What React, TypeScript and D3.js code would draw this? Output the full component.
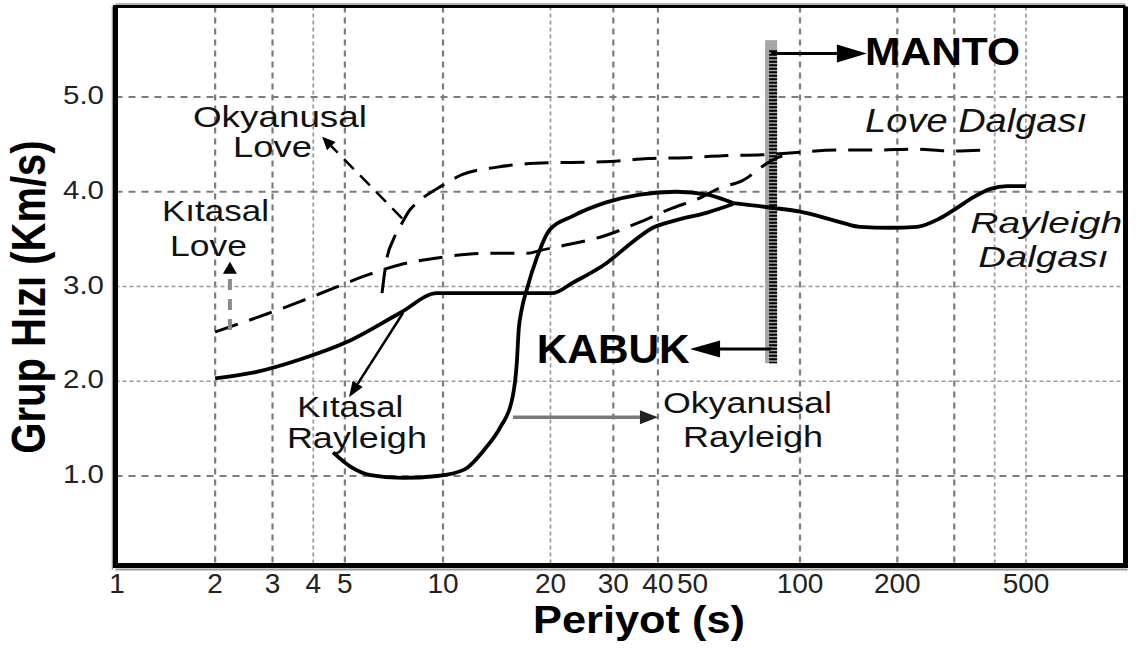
import React from "react";
import * as d3 from "d3";

type Pt = [number, number];

// ---- axis values ----
const xTickLabels = [1, 2, 3, 4, 5, 10, 20, 30, 40, 50, 100, 200, 500];
const xGridValues = [2, 3, 4, 5, 10, 20, 30, 40, 100, 200, 300, 400, 500];
const xGridFine = [4, 20, 400, 500];
const yTickValues = [1, 2, 3, 4, 5];
const yGridFine = [2, 3];

// ---- curves: [period (s), group velocity (km/s)] ----
const kitasalRayleigh: Pt[] = [
  [2.0, 2.03], [2.61, 2.09], [3.64, 2.23], [5.19, 2.43], [7.38, 2.72], [9.6, 2.93],
  [15, 2.93], [20.3, 2.93], [23.1, 3.04], [28.8, 3.25], [32.7, 3.42], [38.7, 3.62],
  [45, 3.7], [55, 3.78], [65, 3.87],
];
const okyanusalRayleigh: Pt[] = [
  [4.6, 1.25], [5.2, 1.1], [6.0, 1.01], [7.5, 0.98], [9.6, 1.0], [11.5, 1.07],
  [13.0, 1.27], [14.5, 1.52], [15.6, 1.8], [16.1, 2.2], [16.3, 2.55], [16.6, 2.75],
  [17.2, 2.98], [18.3, 3.3], [19.9, 3.6], [23, 3.74], [28.8, 3.89], [35.6, 3.97],
  [45, 4.0], [55, 3.97], [65, 3.88],
];
const rayleighDalgasi: Pt[] = [
  [65, 3.88], [84, 3.83], [100, 3.79], [133, 3.68], [153, 3.63], [190, 3.62],
  [230, 3.63], [271, 3.72], [306, 3.83], [343, 3.94], [388, 4.03], [437, 4.06], [500, 4.06],
];
const kitasalLove: Pt[] = [
  [2.0, 2.52], [2.88, 2.71], [3.64, 2.84], [4.6, 2.98], [5.85, 3.12], [7.38, 3.23],
  [10, 3.31], [12.9, 3.35], [17.3, 3.35], [18.7, 3.38], [22.2, 3.44], [28.1, 3.53],
  [35.6, 3.68], [44.1, 3.83], [51.4, 3.92], [59.7, 4.04], [69.2, 4.12], [80.8, 4.3],
  [88, 4.37], [95, 4.4],
];
const okyanusalLove: Pt[] = [
  [6.5, 2.93], [6.73, 3.3], [7.03, 3.49], [7.38, 3.63], [7.92, 3.81], [8.5, 3.91],
  [10, 4.07], [11.3, 4.18], [14.2, 4.26], [18.1, 4.3], [23, 4.31], [29.4, 4.32],
  [37.5, 4.35], [48.2, 4.36], [60.8, 4.38], [78.3, 4.39], [93.8, 4.41], [130, 4.44],
  [171, 4.44], [227, 4.45], [291, 4.43], [366, 4.44],
];

// ---- annotations (data coordinates) ----
const barPeriod = 83;
const barRange: Pt = [2.19, 5.6];
const regularLabels = [
  { text: "Okyanusal", at: [1.71, 4.68] as Pt, w: 174 },
  { text: "Love", at: [2.27, 4.37] as Pt, w: 79 },
  { text: "Kıtasal", at: [1.374, 3.69] as Pt, w: 107 },
  { text: "Love", at: [1.454, 3.32] as Pt, w: 77 },
  { text: "Kıtasal", at: [3.57, 1.62] as Pt, w: 106 },
  { text: "Rayleigh", at: [3.32, 1.3] as Pt, w: 140 },
  { text: "Okyanusal", at: [41.3, 1.665] as Pt, w: 169 },
  { text: "Rayleigh", at: [47.0, 1.306] as Pt, w: 140 },
];
const italicLabels = [
  { text: "Love Dalgası", at: [159, 4.63] as Pt, w: 222, fs: 33 },
  { text: "Rayleigh", at: [336, 3.56] as Pt, w: 152, fs: 29 },
  { text: "Dalgası", at: [356, 3.21] as Pt, w: 130, fs: 30 },
];
const boldLabels = [
  { text: "MANTO", at: [159, 5.34] as Pt, w: 155, fs: 38 },
  { text: "KABUK", at: [18.3, 2.19] as Pt, w: 153, fs: 41 },
];

const FONT = "'Liberation Sans', Arial, Helvetica, sans-serif";

function headPts(x1: number, y1: number, x2: number, y2: number, len: number, hw: number) {
  const dx = x2 - x1, dy = y2 - y1;
  const d = Math.hypot(dx, dy);
  const ux = dx / d, uy = dy / d;
  const bx = x2 - ux * len, by = y2 - uy * len;
  return {
    pts: `${x2},${y2} ${bx - uy * hw},${by + ux * hw} ${bx + uy * hw},${by - ux * hw}`,
    bx, by,
  };
}

export default function App() {
  const x = d3.scaleLog().domain([1, 10, 100, 500]).range([117, 443, 800, 1026]);
  const y = d3.scaleLinear().domain([0, 6]).range([570.75, 2.25]);
  const line = d3
    .line<Pt>()
    .x((d) => x(d[0]))
    .y((d) => y(d[1]))
    .curve(d3.curveMonotoneX);

  const L = 115.5, R = 1125.5, T = 6.5, B = 565.5;

  const arrow = (
    from: Pt, to: Pt, len: number, hw: number,
    stroke: string, sw: number, headFill: string, dash?: string, key?: string
  ) => {
    const x1 = x(from[0]), y1 = y(from[1]), x2 = x(to[0]), y2 = y(to[1]);
    const h = headPts(x1, y1, x2, y2, len, hw);
    return (
      <g key={key}>
        <line x1={x1} y1={y1} x2={h.bx} y2={h.by} stroke={stroke} strokeWidth={sw}
          strokeDasharray={dash} />
        <polygon points={h.pts} fill={headFill} />
      </g>
    );
  };

  const bx = x(barPeriod);

  return (
    <svg width={1139} height={648} style={{ position: "absolute", left: 0, top: 0, background: "#fff" }}
      fontFamily={FONT}>
      <rect x={0} y={0} width={1139} height={648} fill="#fff" />

      {/* grid */}
      {xGridValues.map((v) => {
        const fine = xGridFine.includes(v);
        return (
          <line key={"gx" + v} x1={x(v)} x2={x(v)} y1={T} y2={B}
            stroke={fine ? "#9a9a9a" : "#7c7c7c"} strokeWidth={fine ? 1.7 : 2.2}
            strokeDasharray={fine ? "4 3" : "6 5"} />
        );
      })}
      {yTickValues.map((v) => {
        const fine = yGridFine.includes(v);
        return (
          <line key={"gy" + v} x1={L} x2={R} y1={y(v)} y2={y(v)}
            stroke={fine ? "#9a9a9a" : "#7c7c7c"} strokeWidth={fine ? 1.7 : 2.2}
            strokeDasharray={fine ? "4 3" : "7 6"} />
        );
      })}

      {/* frame */}
      <line x1={L - 3} x2={L - 3} y1={T} y2={B + 4} stroke="#999" strokeWidth={1.5} />
      <line x1={L} x2={R} y1={T - 2.5} y2={T - 2.5} stroke="#999" strokeWidth={1.5} />
      <line x1={L} x2={R + 2} y1={B + 4} y2={B + 4} stroke="#999" strokeWidth={2} />
      <line x1={L} x2={R} y1={T} y2={T} stroke="#000" strokeWidth={3} />
      <line x1={R} x2={R} y1={T} y2={B} stroke="#000" strokeWidth={5} />
      <line x1={L} x2={L} y1={T - 1.5} y2={B + 2.5} stroke="#000" strokeWidth={5} />
      <line x1={L - 2.5} x2={R + 2.5} y1={B} y2={B} stroke="#000" strokeWidth={5} />

      {/* tick labels */}
      {xTickLabels.map((v) => (
        <text key={"xt" + v} x={x(v)} y={593} fontSize={28} textAnchor="middle" fill="#222">
          {v}
        </text>
      ))}
      {yTickValues.map((v) => (
        <text key={"yt" + v} x={104} y={y(v) + 7} fontSize={25} textAnchor="end" fill="#222"
          textLength={41} lengthAdjust="spacingAndGlyphs">
          {v.toFixed(1)}
        </text>
      ))}

      {/* axis titles */}
      <text x={639} y={633} fontSize={39} fontWeight="bold" textAnchor="middle"
        textLength={212} lengthAdjust="spacingAndGlyphs">Periyot (s)</text>
      <text transform="translate(45,297) scale(1.2,1) rotate(-90)" fontSize={40}
        fontWeight="bold" textAnchor="middle">Grup Hızı (Km/s)</text>

      {/* MANTO / KABUK bar */}
      <rect x={bx - 6} y={y(barRange[1])} width={12} height={y(barRange[0]) - y(barRange[1])}
        fill="#a6a6a6" />
      <line x1={bx + 2} x2={bx + 2} y1={y(barRange[1]) + 10} y2={y(barRange[0])}
        stroke="#000" strokeWidth={8} strokeDasharray="2 1.5" />
      {arrow([barPeriod, 5.46], [161, 5.46], 30, 9, "#000", 3, "#000", undefined, "manto")}
      {arrow([barPeriod, 2.34], [49.2, 2.34], 30, 8.5, "#000", 3, "#000", undefined, "kabuk")}

      {/* curves */}
      <path d={line(kitasalLove) || ""} fill="none" stroke="#000" strokeWidth={3}
        strokeDasharray="24 12" />
      <path d={line(okyanusalLove) || ""} fill="none" stroke="#000" strokeWidth={3}
        strokeDasharray="24 12" />
      <path d={line(kitasalRayleigh) || ""} fill="none" stroke="#000" strokeWidth={3.8} />
      <path d={line(okyanusalRayleigh) || ""} fill="none" stroke="#000" strokeWidth={3.8} />
      <path d={line(rayleighDalgasi) || ""} fill="none" stroke="#000" strokeWidth={3.8} />

      {/* label arrows */}
      {arrow([15.7, 1.62], [40, 1.62], 18, 7, "#7a7a7a", 3.5, "#222", undefined, "oR")}
      {arrow([7.54, 2.72], [5.15, 1.83], 16, 6, "#000", 2.5, "#000", undefined, "kR")}
      {arrow([7.49, 3.72], [4.26, 4.58], 13, 6, "#000", 2.5, "#000", "14 9", "oL")}
      {arrow([2.22, 2.54], [2.22, 3.26], 12, 7, "#8a8a8a", 4, "#000", "11 9", "kL")}

      {/* labels */}
      {regularLabels.map((l, i) => (
        <text key={"rl" + i} x={x(l.at[0])} y={y(l.at[1])} fontSize={29} fill="#111"
          textLength={l.w} lengthAdjust="spacingAndGlyphs">{l.text}</text>
      ))}
      {italicLabels.map((l, i) => (
        <text key={"il" + i} x={x(l.at[0])} y={y(l.at[1])} fontSize={l.fs} fontStyle="italic"
          fill="#111" textLength={l.w} lengthAdjust="spacingAndGlyphs">{l.text}</text>
      ))}
      {boldLabels.map((l, i) => (
        <text key={"bl" + i} x={x(l.at[0])} y={y(l.at[1])} fontSize={l.fs} fontWeight="bold"
          fill="#000" textLength={l.w} lengthAdjust="spacingAndGlyphs">{l.text}</text>
      ))}
    </svg>
  );
}
